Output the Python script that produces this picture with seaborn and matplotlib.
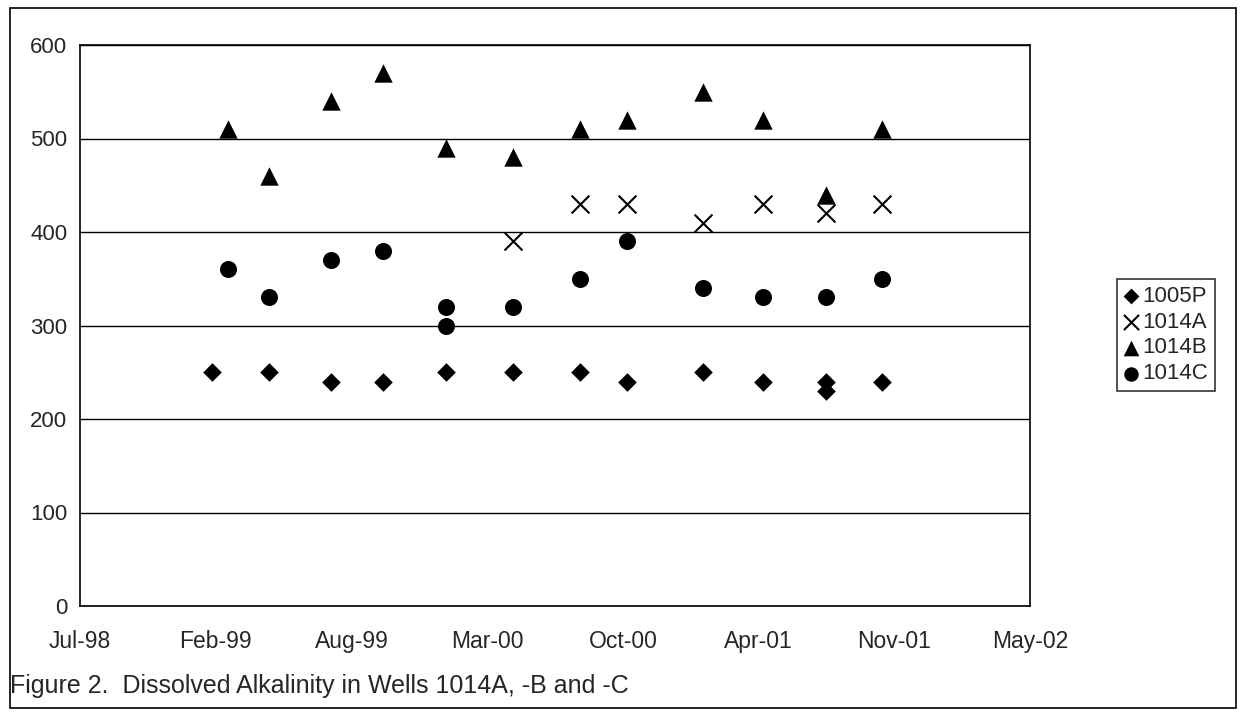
import matplotlib
matplotlib.use("Agg")
import matplotlib.pyplot as plt
import matplotlib.dates as mdates
from matplotlib.patches import Rectangle
import pandas as pd
import seaborn as sns

# ---- data ----
dates_1005P = ["1999-02-03", "1999-04-28", "1999-07-29", "1999-10-14", "2000-01-14",
               "2000-04-22", "2000-07-30", "2000-10-07", "2001-01-27", "2001-04-26",
               "2001-07-28", "2001-07-28", "2001-10-18"]
vals_1005P = [250, 250, 240, 240, 250, 250, 250, 240, 250, 240, 240, 230, 240]

dates_1014A = ["2000-04-22", "2000-07-30", "2000-10-07", "2001-01-27", "2001-04-26",
               "2001-07-28", "2001-10-18"]
vals_1014A = [390, 430, 430, 410, 430, 420, 430]

dates_1014B = ["1999-02-27", "1999-04-28", "1999-07-29", "1999-10-14", "2000-01-14",
               "2000-04-22", "2000-07-30", "2000-10-07", "2001-01-27", "2001-04-26",
               "2001-07-28", "2001-10-18"]
vals_1014B = [510, 460, 540, 570, 490, 480, 510, 520, 550, 520, 440, 510]

dates_1014C = ["1999-02-27", "1999-04-28", "1999-07-29", "1999-10-14", "2000-01-14",
               "2000-01-14", "2000-04-22", "2000-07-30", "2000-10-07", "2001-01-27",
               "2001-04-26", "2001-07-28", "2001-10-18"]
vals_1014C = [360, 330, 370, 380, 320, 300, 320, 350, 390, 340, 330, 330, 350]

series_names = ["1005P", "1014A", "1014B", "1014C"]
x_start, x_end, x_step_days = "1998-07-24", "2002-05-24", 200
y_ticks = [0, 100, 200, 300, 400, 500, 600]
caption = "Figure 2.  Dissolved Alkalinity in Wells 1014A, -B and -C"

frames = []
for name, d, v in [("1005P", dates_1005P, vals_1005P), ("1014A", dates_1014A, vals_1014A),
                   ("1014B", dates_1014B, vals_1014B), ("1014C", dates_1014C, vals_1014C)]:
    frames.append(pd.DataFrame({"date": pd.to_datetime(d), "value": v, "well": name}))
df = pd.concat(frames, ignore_index=True)

# ---- style ----
sns.set_style("white")
plt.rcParams["font.family"] = ["Liberation Sans", "DejaVu Sans"]

fig = plt.figure(figsize=(12.41, 7.13), dpi=100)
ax = fig.add_axes([80 / 1241, 107 / 713, 950 / 1241, 561 / 713])

marker_style = {
    "1005P": dict(marker="D", s=90, linewidth=0),
    "1014A": dict(marker="x", s=165, linewidth=1.5),
    "1014B": dict(marker="^", s=175, linewidth=0),
    "1014C": dict(marker="o", s=150, linewidth=0),
}
for name in series_names:
    sub = df[df["well"] == name]
    sns.scatterplot(data=sub, x="date", y="value", ax=ax, color="black",
                    label=name, zorder=3, **marker_style[name])

ax.set_xlim(pd.Timestamp(x_start), pd.Timestamp(x_end))
xt = pd.date_range(x_start, x_end, freq=f"{x_step_days}D")
ax.set_xticks(xt)
ax.xaxis.set_major_formatter(mdates.DateFormatter("%b-%y"))
ax.set_ylim(0, 600)
ax.set_yticks(y_ticks)
ax.set_xlabel("")
ax.set_ylabel("")

ax.grid(axis="y", color="black", linewidth=1.0)
ax.grid(axis="x", visible=False)
for sp in ax.spines.values():
    sp.set_visible(True)
    sp.set_color("black")
    sp.set_linewidth(1.2)
ax.tick_params(axis="y", direction="out", length=4, width=1, color="black",
               labelsize=16, pad=5)
ax.tick_params(axis="x", direction="out", length=5, width=1, color="black",
               labelsize=16.5, pad=12)
ax.set_axisbelow(True)

leg = ax.legend(loc="upper left", bbox_to_anchor=(1117 / 1241, 1 - 279 / 713),
                bbox_transform=fig.transFigure, frameon=True, fancybox=False,
                edgecolor="black", fontsize=16, handlelength=0.7, handletextpad=0.15,
                labelspacing=0.22, borderpad=0.3, borderaxespad=0, markerscale=0.85)
leg.get_frame().set_linewidth(1.2)

fig.text(10 / 1241, 1 - 686 / 713, caption, fontsize=18, va="center", ha="left")

fig.patches.append(Rectangle((10 / 1241, 1 - 708 / 713), 1226 / 1241, 700 / 713,
                             transform=fig.transFigure, fill=False,
                             edgecolor="black", linewidth=1.2))

fig.savefig("out.png", dpi=100)
